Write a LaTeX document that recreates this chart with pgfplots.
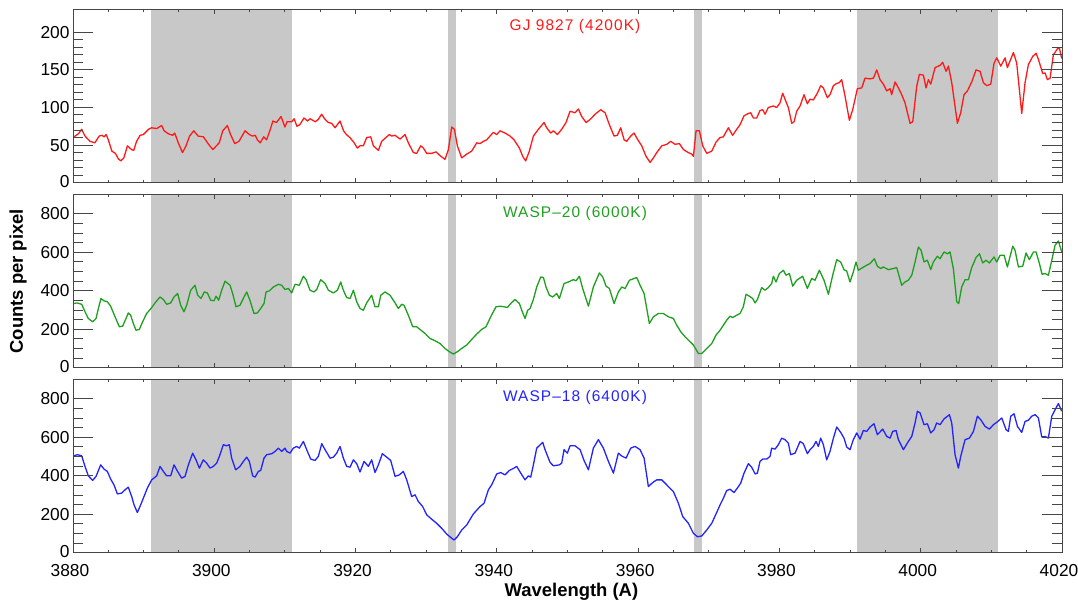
\documentclass[border=0pt]{standalone}
\usepackage{fontspec}
\setmainfont{Liberation Sans}
\newfontfamily\titlefont[LetterSpace=7]{Liberation Sans}
\usepackage{pgfplots}
\pgfplotsset{compat=1.18}

\definecolor{bandgray}{RGB}{200,200,200}
\definecolor{specred}{RGB}{255,25,25}
\definecolor{specgreen}{RGB}{30,160,30}
\definecolor{specblue}{RGB}{35,35,255}
\definecolor{framegray}{RGB}{70,70,70}

\tikzset{paneltitle/.style={font=\titlefont\fontsize{15.5}{18}\selectfont}}

\pgfplotsset{
  panel/.style={
    scale only axis,
    width=989bp, height=173bp,
    xmin=3880, xmax=4020,
    ymin=0,
    axis on top,
    anchor=south west,
    xtick={3880,3900,...,4020},
    minor x tick num=3,
    /pgf/number format/assume math mode=true,
    /pgf/number format/1000 sep={},
    tick label style={font=\fontsize{17.4}{19}\selectfont, text=black},
    xticklabel style={xshift=-3bp, yshift=-8bp},
    axis line style={framegray, line width=1bp},
    every tick/.style={framegray, line width=1bp},
    xtick style={/pgfplots/major tick length=4.5bp, /pgfplots/minor tick length=2.2bp},
    ytick style={/pgfplots/major tick length=20bp, /pgfplots/minor tick length=10bp},
    tick align=inside,
    every axis x label/.style={at={(axis description cs:0.504,-0.228)}, anchor=center,
      font=\fontsize{18.5}{20}\selectfont\bfseries},
    every axis y label/.style={at={(axis description cs:-0.0556,0.5)}, rotate=90, anchor=center,
      font=\fontsize{18.5}{20}\selectfont\bfseries},
  },
  spec/.style={line width=1.3bp, line join=round},
  band/.style={draw=none, fill=bandgray},
}

% Wavelength windows shaded in every panel
\newcommand{\bands}[1]{%
  \addplot[band] coordinates {(3891,0) (3891,#1) (3911,#1) (3911,0)} -- cycle;
  \addplot[band] coordinates {(3933.1,0) (3933.1,#1) (3934.25,#1) (3934.25,0)} -- cycle;
  \addplot[band] coordinates {(3967.9,0) (3967.9,#1) (3969.05,#1) (3969.05,0)} -- cycle;
  \addplot[band] coordinates {(3991,0) (3991,#1) (4011,#1) (4011,0)} -- cycle;
}

\begin{document}
\begin{tikzpicture}
\useasboundingbox (0,0) rectangle (1078bp,606bp);

% ---------------- GJ 9827 ----------------
\begin{axis}[panel, at={(73bp,423.3bp)}, ymax=230,
  ytick={0,50,...,200}, yticklabels={\raisebox{3bp}{0},50,100,150,200},
  minor y tick num=4, xticklabels={}]
\bands{230}
\addplot[spec, specred] coordinates {
(3880.14,61) (3880.76,65) (3881.23,71) (3881.70,62) (3882.40,55) (3883.10,53) (3883.70,62) (3884.10,63)
(3884.40,61) (3884.70,64) (3885.00,57) (3885.50,42) (3886.00,39) (3886.40,32) (3886.75,29) (3887.20,33)
(3887.70,49) (3888.30,44) (3888.60,43) (3889.00,55) (3889.50,63) (3889.96,64) (3890.70,71) (3891.10,73)
(3891.85,72) (3892.55,76) (3892.90,69) (3893.50,65) (3894.10,63) (3894.40,66) (3894.90,53) (3895.50,40)
(3896.00,49) (3896.50,62) (3897.10,69) (3897.70,62) (3898.45,61) (3899.20,51) (3899.80,44) (3900.30,49)
(3900.70,53) (3901.20,69) (3901.85,76) (3902.30,64) (3902.90,52) (3903.50,55) (3904.35,69) (3904.96,64)
(3905.40,62) (3905.80,63) (3906.10,57) (3906.50,53) (3907.00,61) (3907.40,57) (3907.90,70) (3908.30,82)
(3908.80,80) (3909.45,88) (3910.00,74) (3910.30,81) (3910.96,81) (3911.30,85) (3911.70,75) (3912.10,77)
(3912.70,86) (3913.20,82) (3913.55,85) (3914.30,81) (3914.70,84) (3915.20,91) (3915.70,84) (3916.15,80)
(3916.60,79) (3917.10,73) (3917.40,77) (3917.80,82) (3918.30,69) (3918.70,64) (3919.20,60) (3919.80,53)
(3920.25,46) (3920.63,49) (3921.10,49) (3921.57,60) (3922.14,61) (3922.52,49) (3923.23,43) (3923.70,55)
(3924.41,61) (3924.78,64) (3925.11,62) (3925.59,63) (3926.29,58) (3927.00,64) (3927.47,53) (3928.18,40)
(3928.65,39) (3929.22,49) (3929.60,46) (3930.07,39) (3930.78,39) (3931.39,41) (3931.96,36) (3932.66,31)
(3933.14,44) (3933.61,74) (3933.99,71) (3934.41,49) (3935.02,33) (3935.73,38) (3936.44,42) (3937.15,53)
(3937.62,52) (3938.09,55) (3938.56,57) (3939.03,62) (3939.51,67) (3939.98,64) (3940.45,69) (3941.16,66)
(3941.87,62) (3942.43,57) (3943.19,46) (3943.66,35) (3944.08,29) (3944.60,42) (3945.17,62) (3945.88,71)
(3946.68,80) (3947.06,73) (3947.62,66) (3948.00,69) (3948.57,64) (3949.18,71) (3949.79,80) (3950.36,95)
(3951.07,93) (3951.54,98) (3952.01,88) (3952.63,80) (3953.19,84) (3953.90,91) (3954.70,97) (3955.32,93)
(3955.93,77) (3956.59,62) (3957.06,63) (3957.53,73) (3958.01,57) (3958.38,55) (3958.95,62) (3959.42,66)
(3959.89,58) (3960.51,49) (3961.12,35) (3961.69,27) (3962.16,33) (3962.63,40) (3963.34,49) (3964.05,51)
(3964.61,55) (3965.23,51) (3965.84,52) (3966.41,44) (3967.11,40) (3967.59,38) (3967.82,35) (3968.20,69)
(3968.67,69) (3969.14,49) (3969.71,39) (3970.42,42) (3971.03,54) (3971.59,60) (3972.06,61) (3972.77,73)
(3973.38,63) (3973.95,71) (3974.42,77) (3974.99,89) (3975.60,92) (3975.93,93) (3976.31,86) (3976.78,86)
(3977.25,96) (3977.63,97) (3977.96,91) (3978.43,100) (3979.14,102) (3979.61,100) (3980.08,106) (3980.46,119)
(3980.79,111) (3981.26,100) (3981.74,79) (3982.07,81) (3982.44,95) (3982.92,102) (3983.48,117) (3983.95,105)
(3984.33,111) (3984.80,110) (3985.37,119) (3985.84,129) (3986.22,126) (3986.79,113) (3987.16,117) (3987.64,129)
(3988.11,132) (3988.48,133) (3988.81,137) (3989.29,115) (3989.90,83) (3990.37,97) (3991.03,125) (3991.65,126)
(3992.12,139) (3992.83,138) (3993.30,139) (3993.77,150) (3994.24,137) (3994.71,131) (3995.19,122) (3995.66,125)
(3995.89,117) (3996.37,134) (3996.84,126) (3997.31,117) (3997.78,106) (3998.49,79) (3998.87,81) (3999.43,128)
(3999.81,144) (4000.38,143) (4000.75,126) (4001.09,137) (4001.42,131) (4002.03,153) (4002.74,156) (4003.11,160)
(4003.59,148) (4003.92,155) (4004.39,133) (4005.19,79) (4005.66,93) (4006.13,117) (4006.61,122) (4007.22,134)
(4007.83,150) (4008.40,148) (4008.87,133) (4009.34,129) (4009.91,131) (4010.38,159) (4010.76,166) (4011.33,155)
(4011.94,166) (4012.27,153) (4013.12,173) (4013.59,159) (4014.30,92) (4014.77,133) (4015.24,157) (4015.86,168)
(4016.33,172) (4016.66,164) (4017.27,145) (4017.60,146) (4017.93,137) (4018.31,139) (4018.78,170) (4019.35,178)
(4019.63,179) (4019.96,165)
};
\node[paneltitle, text=specred] at (axis description cs:0.5076,0.9) {GJ 9827 (4200K)};
\end{axis}

% ---------------- WASP-20 ----------------
\begin{axis}[panel, at={(73bp,238.3bp)}, ymax=900,
  ytick={0,200,...,800}, yticklabels={\raisebox{3bp}{0},200,400,600,800},
  minor y tick num=3, xticklabels={},
  ylabel={Counts per pixel}]
\bands{900}
\addplot[spec, specgreen] coordinates {
(3880.14,334) (3880.52,337) (3881.23,330) (3881.70,291) (3882.17,256) (3882.78,239) (3883.26,256) (3883.59,308)
(3883.96,360) (3884.39,348) (3884.86,343) (3885.33,320) (3885.95,265) (3886.56,213) (3887.03,216) (3887.50,256)
(3887.83,285) (3888.16,273) (3888.54,230) (3888.92,195) (3889.39,199) (3889.86,239) (3890.43,282) (3891.04,308)
(3891.61,337) (3892.32,368) (3892.79,355) (3893.26,330) (3893.83,337) (3894.30,368) (3894.82,386) (3895.24,325)
(3895.71,291) (3896.09,325) (3896.66,403) (3897.27,429) (3897.65,377) (3898.12,360) (3898.59,394) (3899.02,389)
(3899.49,351) (3899.96,348) (3900.25,372) (3900.62,351) (3901.05,403) (3901.52,450) (3902.23,429) (3902.60,386)
(3903.08,317) (3903.64,325) (3904.21,368) (3904.59,394) (3905.05,351) (3905.62,282) (3906.10,285) (3906.57,308)
(3907.04,334) (3907.33,394) (3907.80,400) (3908.37,420) (3909.07,434) (3909.54,429) (3910.01,407) (3910.49,412)
(3910.96,389) (3911.43,434) (3912.04,429) (3912.61,476) (3912.99,458) (3913.55,403) (3914.12,394) (3914.50,407)
(3915.06,458) (3915.68,438) (3916.15,403) (3916.86,389) (3917.42,403) (3917.90,446) (3918.27,403) (3918.74,365)
(3919.22,360) (3919.69,403) (3920.16,343) (3920.63,308) (3921.10,299) (3921.57,337) (3922.28,377) (3922.75,317)
(3923.23,317) (3923.56,377) (3924.17,394) (3924.88,377) (3925.59,337) (3926.06,308) (3926.53,330) (3926.86,325)
(3927.47,273) (3928.09,213) (3928.65,213) (3929.12,199) (3929.83,178) (3930.54,152) (3931.25,140) (3931.96,126)
(3932.66,100) (3933.28,83) (3933.84,71) (3934.41,83) (3935.02,100) (3935.73,118) (3936.44,147) (3937.15,175)
(3937.85,199) (3938.47,213) (3939.13,265) (3939.88,317) (3940.45,320) (3941.02,317) (3941.49,313) (3941.96,334)
(3942.57,355) (3943.19,334) (3943.52,299) (3943.99,256) (3944.37,299) (3944.70,308) (3945.17,355) (3945.64,420)
(3946.21,472) (3946.59,469) (3946.96,420) (3947.43,377) (3947.91,368) (3948.47,386) (3948.85,360) (3949.51,438)
(3950.13,446) (3950.83,458) (3951.21,452) (3951.68,476) (3952.15,412) (3952.96,320) (3953.66,420) (3954.51,493)
(3954.99,472) (3955.46,424) (3955.93,412) (3956.59,334) (3957.20,394) (3957.68,420) (3958.15,412) (3958.76,455)
(3959.80,469) (3960.27,429) (3960.84,386) (3961.59,230) (3962.16,265) (3962.87,282) (3963.57,282) (3964.28,265)
(3964.99,256) (3965.46,221) (3966.03,187) (3966.64,161) (3967.35,135) (3967.82,118) (3968.53,74) (3969.00,74)
(3969.71,100) (3970.42,126) (3971.03,170) (3971.60,195) (3972.06,221) (3972.53,247) (3973.01,268) (3973.38,261)
(3973.95,273) (3974.42,282) (3974.89,317) (3975.27,382) (3975.74,372) (3976.21,360) (3976.55,337) (3976.88,355)
(3977.49,417) (3977.96,403) (3978.43,417) (3978.90,438) (3979.14,476) (3979.52,446) (3979.99,490) (3980.56,507)
(3980.93,481) (3981.41,490) (3981.88,424) (3982.44,455) (3983.29,476) (3983.95,412) (3984.56,464) (3985.04,455)
(3985.65,507) (3986.31,455) (3986.93,382) (3987.54,481) (3988.11,562) (3988.67,550) (3989.14,510) (3989.52,503)
(3989.99,446) (3990.46,498) (3990.84,550) (3991.17,507) (3991.79,521) (3992.35,533) (3992.83,542) (3993.44,567)
(3993.86,528) (3994.34,516) (3994.71,524) (3995.42,510) (3996.13,516) (3996.60,521) (3997.31,429) (3997.78,446)
(3998.25,455) (3998.73,481) (3999.20,550) (3999.67,628) (4000.05,611) (4000.47,550) (4000.94,559) (4001.42,510)
(4001.79,550) (4002.36,580) (4002.74,567) (4003.30,602) (4003.78,593) (4004.15,602) (4004.62,516) (4005.10,343)
(4005.38,334) (4005.80,420) (4006.28,458) (4006.75,458) (4007.22,521) (4007.83,573) (4008.31,593) (4008.78,545)
(4009.25,559) (4009.72,545) (4010.38,576) (4010.76,550) (4011.23,585) (4011.80,585) (4012.27,524) (4013.02,632)
(4013.35,611) (4013.83,524) (4014.44,528) (4014.91,597) (4015.38,562) (4015.95,602) (4016.33,602) (4016.80,542)
(4017.18,486) (4017.60,490) (4018.07,481) (4018.55,559) (4019.02,637) (4019.49,659) (4019.96,602)
};
\node[paneltitle, text=specgreen] at (axis description cs:0.5076,0.894) {WASP–20 (6000K)};
\end{axis}

% ---------------- WASP-18 ----------------
\begin{axis}[panel, at={(73bp,53.3bp)}, ymax=900,
  ytick={0,200,...,800}, yticklabels={\raisebox{3bp}{0},200,400,600,800},
  minor y tick num=3,
  xlabel={Wavelength (A)}]
\bands{900}
\addplot[spec, specblue] coordinates {
(3880.14,504) (3880.61,510) (3881.23,504) (3881.70,449) (3882.17,400) (3882.78,376) (3883.26,397) (3883.92,457)
(3884.39,435) (3884.86,423) (3885.33,383) (3885.80,353) (3886.28,306) (3886.89,310) (3887.36,327) (3887.83,341)
(3888.31,292) (3888.64,249) (3889.11,209) (3889.58,249) (3890.05,292) (3890.52,336) (3891.14,379) (3891.85,400)
(3892.32,449) (3892.79,423) (3893.26,400) (3893.83,400) (3894.30,457) (3894.68,431) (3895.38,388) (3895.86,397)
(3896.33,457) (3896.94,518) (3897.41,483) (3897.89,440) (3898.45,483) (3898.92,466) (3899.40,440) (3899.87,449)
(3900.34,466) (3900.72,501) (3901.28,562) (3901.76,556) (3902.13,562) (3902.46,492) (3903.03,431) (3903.64,449)
(3904.12,475) (3904.59,497) (3904.96,475) (3905.43,400) (3905.77,393) (3906.24,423) (3906.57,428) (3907.04,492)
(3907.42,510) (3908.13,515) (3908.60,527) (3909.07,544) (3909.54,527) (3910.01,544) (3910.25,527) (3910.72,518)
(3911.19,544) (3911.67,553) (3912.04,544) (3912.61,579) (3913.08,536) (3913.65,487) (3914.26,480) (3914.73,501)
(3915.21,567) (3915.68,536) (3916.39,492) (3916.86,497) (3917.33,518) (3917.80,553) (3918.27,492) (3918.74,449)
(3919.22,445) (3919.69,483) (3920.16,463) (3920.63,420) (3921.20,475) (3921.81,449) (3922.28,483) (3922.75,417)
(3923.23,457) (3923.79,515) (3924.41,497) (3924.97,480) (3925.59,397) (3926.20,405) (3926.76,423) (3927.24,379)
(3927.94,292) (3928.42,301) (3928.89,266) (3929.50,240) (3930.07,197) (3930.78,174) (3931.48,153) (3932.19,127)
(3932.90,97) (3933.61,75) (3933.94,66) (3934.41,83) (3935.02,118) (3935.73,144) (3936.68,202) (3937.62,240)
(3938.18,257) (3938.80,327) (3939.27,353) (3939.98,410) (3940.54,417) (3941.16,405) (3941.77,428) (3942.43,440)
(3942.81,449) (3943.38,414) (3943.99,379) (3944.46,400) (3944.79,393) (3945.17,457) (3945.64,544) (3946.49,574)
(3946.82,536) (3947.53,470) (3948.00,452) (3948.85,457) (3949.18,466) (3949.51,536) (3949.98,518) (3950.36,556)
(3951.07,556) (3951.78,536) (3952.34,480) (3952.96,431) (3953.66,544) (3954.37,588) (3955.08,544) (3955.79,475)
(3956.50,414) (3957.20,518) (3957.68,503) (3958.29,492) (3958.95,544) (3959.56,553) (3960.27,536) (3960.84,492)
(3961.45,344) (3962.06,365) (3962.63,379) (3963.34,379) (3964.28,344) (3964.99,318) (3965.70,257) (3966.31,188)
(3967.11,153) (3967.82,101) (3968.39,83) (3969.00,87) (3969.71,118) (3970.42,153) (3971.03,202) (3971.60,249)
(3972.06,283) (3972.53,323) (3973.01,330) (3973.57,313) (3974.04,336) (3974.52,362) (3974.99,414) (3975.60,463)
(3976.07,445) (3976.55,410) (3976.88,414) (3977.25,475) (3977.63,487) (3978.20,487) (3978.67,501) (3978.90,544)
(3979.38,539) (3979.85,562) (3980.32,596) (3980.79,588) (3981.26,570) (3981.59,510) (3982.21,518) (3982.92,579)
(3983.39,567) (3983.95,515) (3984.33,536) (3984.80,553) (3985.18,579) (3985.51,553) (3985.84,596) (3986.22,562)
(3986.69,483) (3987.16,527) (3987.64,596) (3988.11,654) (3988.67,626) (3989.14,596) (3989.52,550) (3989.99,536)
(3990.46,588) (3990.94,623) (3991.41,591) (3991.88,636) (3992.35,631) (3992.83,654) (3993.39,671) (3993.86,614)
(3994.62,643) (3995.19,605) (3995.66,596) (3996.03,631) (3996.51,636) (3996.84,588) (3997.55,536) (3998.25,579)
(3998.73,605) (3999.20,675) (3999.53,736) (3999.91,727) (4000.47,666) (4000.94,671) (4001.42,623) (4001.89,640)
(4002.26,675) (4002.74,666) (4003.30,696) (4004.06,718) (4004.39,675) (4004.86,510) (4005.33,440) (4005.66,501)
(4006.28,588) (4006.89,596) (4007.46,631) (4008.02,710) (4008.49,692) (4009.11,657) (4009.72,643) (4010.29,666)
(4010.76,678) (4011.47,701) (4012.08,640) (4012.41,631) (4012.74,710) (4013.21,723) (4013.69,657) (4014.30,626)
(4014.77,683) (4015.24,689) (4015.71,710) (4016.19,718) (4016.66,701) (4017.13,602) (4017.60,605) (4018.07,596)
(4018.55,710) (4019.02,744) (4019.49,776) (4019.96,736)
};
\node[paneltitle, text=specblue] at (axis description cs:0.5076,0.9) {WASP–18 (6400K)};
\end{axis}
\end{tikzpicture}
\end{document}
